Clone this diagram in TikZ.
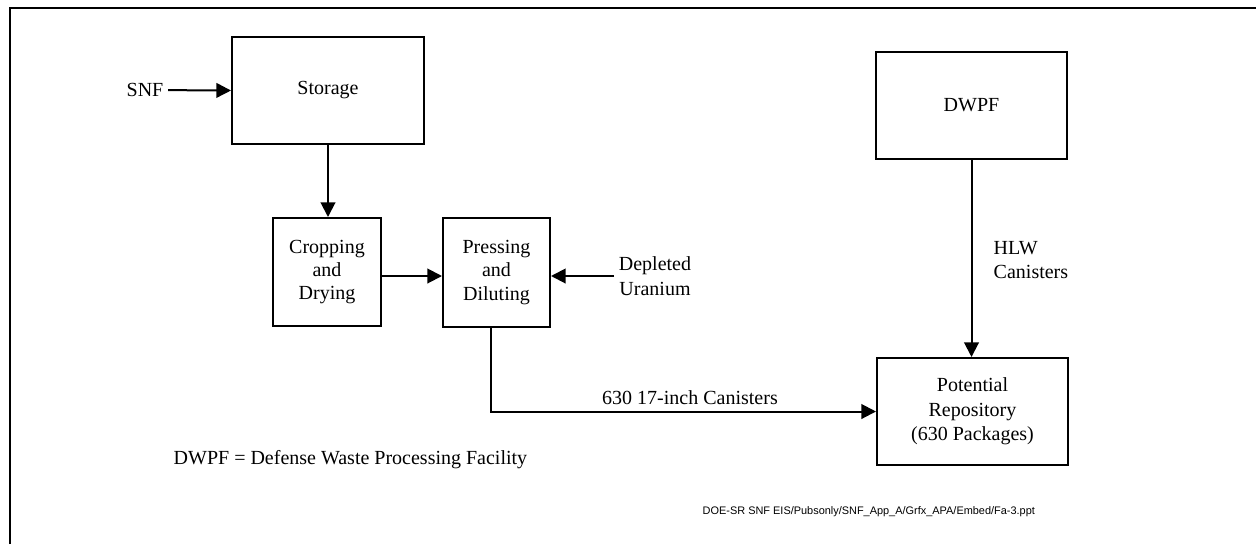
\documentclass[tikz,border=0pt]{standalone}
\usepackage{fontspec}
\setmainfont{Liberation Serif}
\newfontfamily\pathfont{Liberation Sans}
\usetikzlibrary{arrows.meta,positioning}
\begin{document}
\begin{tikzpicture}[x=0.75pt,y=-0.75pt,
  every node/.style={font=\fontsize{15}{18.4}\selectfont},
  procbox/.style={draw,line width=1.5pt,align=center,inner sep=0pt},
  lbl/.style={align=center},
  flow/.style={line width=1.5pt,-{Triangle[length=11pt,width=11pt]}},
  link/.style={line width=1.5pt}]
\useasboundingbox (0,0) rectangle (1256,544);
\fill[white] (0,0) rectangle (1256,544);
% outer frame (top and left edges)
\draw[line width=2pt] (10,544) -- (10,8) -- (1256,8);

% process boxes
\node[procbox,minimum width=144pt,minimum height=80.25pt] (storage) at (328,90.5) {Storage};
\node[procbox,minimum width=81pt,minimum height=81pt,font=\fontsize{15}{17.6}\selectfont] (crop) at (327,272) {Cropping\\and\\Drying};
\node[procbox,minimum width=80.25pt,minimum height=81.75pt,font=\fontsize{15}{17.6}\selectfont] (press) at (496.5,272.5) {Pressing\\and\\Diluting};
\node[procbox,minimum width=143.25pt,minimum height=80.25pt] (dwpf) at (971.5,105.5) {DWPF};
\node[procbox,minimum width=143.25pt,minimum height=80.25pt] (repo) at (972.5,411.5) {Potential\\Repository\\(630 Packages)};

% inputs and labels
\node[lbl] (snf) at (145,90) {SNF};
\node[lbl] (depl) at (655,276) {Depleted\\Uranium};
\node[lbl,anchor=west,align=left] (hlw) at (989,260) {HLW\\Canisters};
\node[lbl] (cans) at (690,398) {630 17-inch Canisters};
\node[anchor=west] (legend) at (169,460) {DWPF = Defense Waste Processing Facility};
\node[anchor=west,font=\pathfont\fontsize{8.2}{9.5}\selectfont] (path) at (698,512) {DOE-SR SNF EIS/Pubsonly/SNF\_App\_A/Grfx\_APA/Embed/Fa-3.ppt};

% connectors
\draw[flow] (snf) -- (storage.west);
\draw[flow] (storage.south) -- (storage.south |- crop.north);
\draw[flow] (crop.east |- 0,276) -- (press.west |- 0,276);
\draw[flow] (depl.west |- 0,276) -- (press.east |- 0,276);
\draw[flow] ([xshift=-4pt]press.south) |- (repo.west);
\draw[flow] (dwpf.south) -- (dwpf.south |- repo.north);
\end{tikzpicture}
\end{document}
